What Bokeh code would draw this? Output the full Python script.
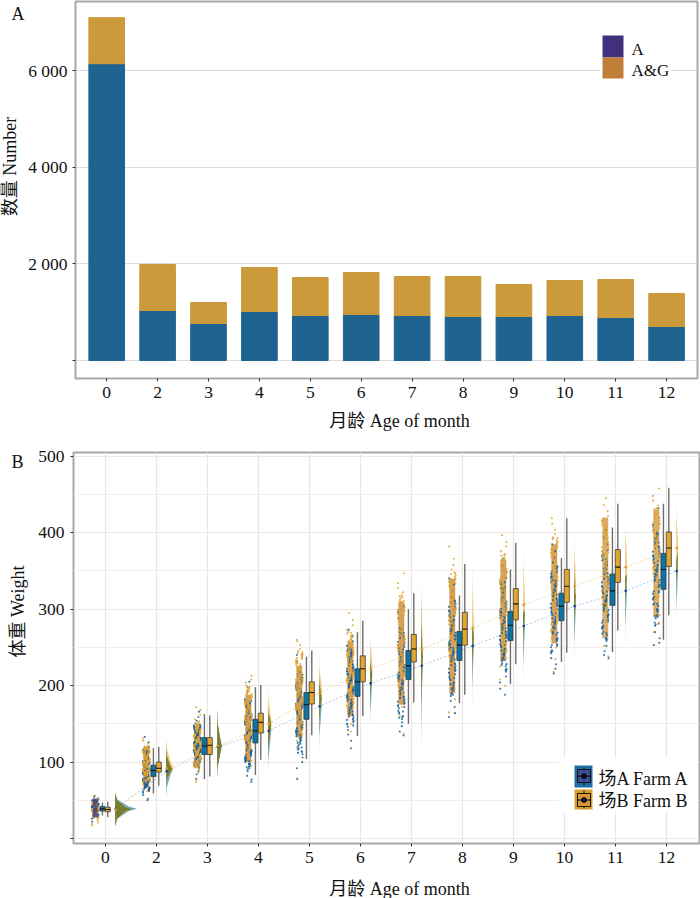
from bokeh.plotting import figure
from bokeh.layouts import column
from bokeh.embed import file_html
from bokeh.resources import INLINE
from bokeh.models import Range1d, FixedTicker, Label

months = ["0", "2", "3", "4", "5", "6", "7", "8", "9", "10", "11", "12"]

# Panel A
count_a = [6150, 1036, 767, 1016, 933, 953, 933, 912, 912, 933, 891, 705]
count_total = [7105, 1990, 1202, 1927, 1720, 1824, 1741, 1741, 1575, 1658, 1679, 1389]

# Panel B box statistics: whisker low, q1, median, q3, whisker high
box_a = [
    [30, 36, 39, 42, 47], [59, 81, 89, 96, 118], [78, 110, 121, 132, 163], [83, 125, 141, 156, 198],
    [104, 156, 175, 191, 238], [134, 186, 205, 222, 270], [150, 208, 226, 246, 300], [177, 233, 253, 271, 318],
    [202, 259, 279, 297, 352], [231, 285, 304, 321, 367], [244, 305, 324, 346, 407], [260, 326, 352, 373, 438],
]
box_b = [
    [28, 35, 38, 41, 48], [69, 87, 92, 100, 120], [81, 110, 122, 132, 161], [103, 138, 152, 164, 201],
    [135, 176, 191, 205, 246], [160, 205, 222, 239, 285], [178, 231, 248, 267, 321], [188, 253, 274, 296, 359],
    [228, 286, 307, 327, 387], [243, 309, 330, 352, 419], [272, 335, 355, 378, 438], [292, 356, 380, 401, 459],
]
mean_a = [39, 88, 120, 141, 173, 203, 226, 252, 278, 304, 324, 350]
mean_b = [38, 92, 121, 150, 190, 222, 248, 275, 306, 330, 355, 380]

# Half-violin extents and peak widths (in month units)
cloud_a_low = [16, 52, 78, 85, 113, 144, 120, 166, 201, 229, 251, 280]
cloud_a_high = [60, 120, 170, 172, 216, 238, 318, 281, 299, 362, 338, 351]
cloud_b_low = [16, 68, 78, 100, 137, 168, 120, 198, 229, 255, 277, 312]
cloud_b_high = [60, 133, 170, 201, 243, 273, 358, 366, 389, 407, 422, 443]
cloud_a_peak = [0.43, 0.12, 0.09, 0.06, 0.05, 0.04, 0.035, 0.035, 0.035, 0.035, 0.035, 0.035]
cloud_b_peak = [0.33, 0.15, 0.09, 0.07, 0.06, 0.05, 0.04, 0.04, 0.04, 0.04, 0.04, 0.04]
cloud_profile = [0.0, 0.1, 0.62, 1.0, 0.62, 0.1, 0.0]

# Dense centre of each raw-data strip
strip_core_low = [28, 66, 92, 100, 132, 160, 175, 190, 232, 255, 262, 290]
strip_core_high = [52, 120, 148, 188, 226, 258, 310, 340, 365, 385, 420, 430]
strip_core_color = ["#4a3f7f", "#c98530", "#c98530", "#c98530", "#c98530", "#c98530", "#c98a3a", "#c98a3a", "#c98a3a", "#c98a3a", "#cf9a4a", "#cf9a4a"]

strip_a = [
    [22, 26, 28, 30, 31, 32, 33, 34, 35, 36, 37, 38, 38, 39, 40, 41, 42, 43, 44, 45, 46, 47, 48, 49, 50, 52, 54, 56],
    [50, 52, 57, 60, 63, 64, 66, 68, 70, 72, 74, 75, 77, 79, 80, 82, 83, 85, 86, 88, 89, 90, 92, 93, 95, 96, 98, 100, 102, 104, 107, 110, 113, 116, 120, 126, 133],
    [78, 84, 88, 92, 95, 98, 100, 102, 104, 106, 108, 110, 111, 113, 115, 116, 118, 120, 121, 123, 125, 127, 129, 131, 133, 135, 138, 141, 144, 147, 150, 154, 159, 166],
    [74, 77, 82, 88, 92, 96, 100, 104, 108, 112, 115, 118, 122, 125, 128, 131, 134, 137, 140, 143, 146, 149, 152, 155, 158, 161, 164, 168, 172, 176, 180, 185, 191, 198, 205],
    [78, 92, 100, 106, 112, 118, 124, 129, 134, 139, 143, 147, 151, 155, 159, 163, 167, 171, 175, 179, 183, 187, 191, 195, 199, 203, 208, 213, 218, 224, 231, 240],
    [118, 128, 136, 142, 148, 154, 160, 165, 170, 175, 180, 185, 189, 193, 197, 201, 205, 209, 213, 217, 221, 226, 231, 236, 241, 246, 252, 258, 265, 273],
    [135, 140, 147, 152, 158, 165, 172, 178, 184, 190, 196, 201, 206, 211, 216, 221, 226, 231, 236, 241, 246, 251, 256, 262, 268, 274, 281, 288, 296, 304],
    [159, 164, 172, 180, 188, 195, 202, 209, 215, 221, 227, 233, 238, 243, 248, 253, 258, 263, 268, 273, 278, 284, 290, 296, 302, 309, 316, 324, 332, 340],
    [188, 196, 204, 212, 220, 227, 234, 240, 246, 252, 258, 264, 269, 274, 279, 284, 289, 294, 299, 304, 309, 315, 321, 327, 334, 341, 349, 357, 366],
    [216, 222, 228, 236, 244, 252, 260, 268, 275, 282, 288, 294, 300, 306, 312, 318, 324, 330, 336, 342, 348, 354, 361, 368, 376, 385],
    [236, 240, 245, 252, 260, 268, 276, 284, 291, 298, 304, 310, 316, 322, 328, 334, 340, 346, 352, 358, 364, 370, 377, 385, 394, 404],
    [253, 256, 262, 270, 280, 290, 298, 306, 314, 322, 330, 337, 344, 350, 356, 362, 368, 374, 380, 386, 392, 398, 404, 410, 420, 432],
]
strip_b = [
    [17, 19, 21, 24, 27, 29, 31, 33, 35, 36, 38, 39, 41, 43, 44, 46, 48, 50, 53, 55],
    [62, 67, 71, 74, 76, 78, 81, 83, 84, 86, 87, 89, 90, 91, 93, 94, 95, 97, 98, 100, 101, 103, 105, 106, 108, 110, 112, 114, 116, 118, 121, 124, 128, 131],
    [74, 77, 86, 90, 94, 97, 101, 105, 107, 109, 112, 114, 117, 119, 122, 124, 126, 128, 130, 132, 134, 136, 139, 142, 145, 148, 151, 156, 162, 168, 172],
    [95, 102, 108, 113, 118, 123, 127, 131, 135, 138, 141, 144, 147, 150, 153, 156, 159, 162, 165, 168, 171, 174, 177, 181, 185, 188, 192, 196, 200, 204, 208, 213],
    [118, 128, 136, 143, 149, 154, 159, 164, 168, 172, 176, 180, 184, 188, 192, 196, 199, 203, 207, 211, 215, 219, 223, 227, 231, 235, 239, 243, 248, 253, 258, 260],
    [140, 150, 158, 166, 172, 178, 184, 189, 194, 199, 203, 207, 211, 215, 219, 223, 227, 231, 235, 239, 243, 248, 253, 258, 263, 268, 273, 279, 286, 295],
    [137, 160, 172, 180, 190, 198, 206, 214, 220, 226, 232, 238, 244, 250, 255, 260, 265, 270, 275, 280, 286, 292, 298, 304, 310, 316, 322, 328, 334, 347],
    [165, 182, 195, 205, 214, 222, 230, 237, 244, 250, 256, 262, 268, 274, 280, 286, 292, 298, 304, 310, 316, 322, 328, 334, 340, 346, 352, 358, 366, 382],
    [200, 208, 225, 236, 245, 254, 262, 270, 278, 285, 292, 298, 304, 310, 316, 322, 328, 334, 340, 346, 352, 358, 364, 370, 376, 382, 388, 397],
    [218, 235, 250, 262, 272, 282, 290, 298, 306, 314, 320, 326, 332, 338, 344, 350, 356, 362, 368, 374, 380, 386, 392, 398, 404, 412, 419],
    [238, 252, 270, 284, 296, 306, 316, 325, 334, 342, 350, 356, 362, 368, 374, 380, 386, 392, 398, 404, 410, 416, 422, 428, 436, 445],
    [270, 282, 292, 304, 316, 328, 338, 346, 354, 362, 370, 376, 382, 388, 394, 400, 406, 412, 418, 424, 430, 436, 442, 448, 458],
]

FONT = "Liberation Serif, Noto Sans CJK SC"
BLUE, GOLD = "#0d74a6", "#e2a52e"
BAR_BLUE, BAR_GOLD = "#1f6491", "#cb9a3a"
x_jitter = [-0.06, 0.022, -0.024, 0.058, -0.04, 0.011, 0.046, -0.066, 0.034, -0.012, 0.064, -0.048, 0.017, -0.03, 0.052]
y_jitter = [0, 2.2, -1.7, 1.1]
idx = list(range(len(months)))


def style(p, yticks, overrides, grid_color, minor=None):
    p.xaxis.ticker = FixedTicker(ticks=idx)
    p.xaxis.major_label_overrides = {i: m for i, m in zip(idx, months)}
    p.yaxis.ticker = FixedTicker(ticks=yticks, minor_ticks=minor or [])
    p.yaxis.major_label_overrides = overrides
    for ax in (p.xaxis, p.yaxis):
        ax.axis_line_color = None
        ax.major_tick_line_color = "#333333"
        ax.major_tick_line_width = 1
        ax.major_tick_in = 0
        ax.major_tick_out = 3
        ax.minor_tick_line_color = None
        ax.major_label_text_font = FONT
        ax.major_label_text_font_size = "17.5px"
        ax.major_label_text_color = "#111111"
        ax.major_label_standoff = 5
    p.outline_line_color = "#a8a8a8"
    p.outline_line_width = 2
    p.background_fill_color = "#ffffff"
    p.ygrid.grid_line_color = grid_color
    p.ygrid.grid_line_width = 1


# ---------- Panel A ----------
p1 = figure(width=700, height=440, output_backend="svg", toolbar_location=None,
            x_range=Range1d(-0.613, 11.607), y_range=Range1d(-373, 7440),
            min_border_left=75, min_border_right=3, min_border_top=1, min_border_bottom=62)
style(p1, [0, 2000, 4000, 6000], {0: "", 2000: "2 000", 4000: "4 000", 6000: "6 000"}, "#dcdcdc")
p1.xgrid.visible = False
p1.vbar(x=idx, top=count_a, bottom=0, width=0.7, color=BAR_BLUE)
p1.vbar(x=idx, top=count_total, bottom=count_a, width=0.7, color=BAR_GOLD)

# ---------- Panel B ----------
p2 = figure(width=700, height=458, output_backend="svg", toolbar_location=None,
            x_range=Range1d(-0.627, 11.647), y_range=Range1d(-6.5, 505),
            min_border_left=73, min_border_right=1, min_border_top=12, min_border_bottom=55)
style(p2, [0, 100, 200, 300, 400, 500], {0: "", 100: "100", 200: "200", 300: "300", 400: "400", 500: "500"},
      "#f0e6e6", minor=[50, 150, 250, 350, 450])
p2.ygrid.minor_grid_line_color = "#f3ecec"
p2.ygrid.minor_grid_line_width = 1
p2.xgrid.grid_line_color = "#ebe4e4"
p2.xgrid.grid_line_width = 1.2

# mean lines behind everything
xm = [i + 0.2 for i in idx]
p2.line(xm, mean_a, line_color="#a9cbe8", line_width=1, line_dash="2 2")
p2.line(xm, mean_b, line_color="#f5d9a6", line_width=1, line_dash="2 2")

# strips
xs_core = [i - 0.2 for i in idx]
p2.vbar(x=xs_core, bottom=strip_core_low, top=strip_core_high, width=0.115,
        fill_color=strip_core_color, fill_alpha=0.8, line_color=None)
for pts, col in ((strip_a, "#12609c"), (strip_b, "#e3a32e")):
    xs, ys = [], []
    for i, vals in enumerate(pts):
        for k, v in enumerate(vals):
            # tails stay single dots; the dense middle is overplotted with jitter
            phases = range(4) if 4 <= k < len(vals) - 4 else range(1)
            for ph in phases:
                xs.append(i - 0.2 + x_jitter[(k * 7 + i + ph * 4) % len(x_jitter)])
                ys.append(v + y_jitter[ph] * (0.4 if i == 0 else 1))
    p2.scatter(xs, ys, size=2.1, color=col, alpha=0.85, line_color=None)
p2.vbar(x=xs_core[:1], bottom=strip_core_low[:1], top=strip_core_high[:1], width=0.09,
        fill_color=strip_core_color[:1], fill_alpha=0.75, line_color=None)


# clouds: each farm pale, their overlap olive
def cloud(low, high, peak, q1, med, q3, col, alpha):
    pxs, pys = [], []
    for i in idx:
        ky = [low[i], (low[i] + q1[i]) / 2, q1[i], med[i], q3[i], (high[i] + q3[i]) / 2, high[i]]
        pxs.append([i + 0.19] + [i + 0.19 + peak[i] * f for f in cloud_profile] + [i + 0.19])
        pys.append([low[i]] + ky + [high[i]])
    p2.patches(pxs, pys, fill_color=col, fill_alpha=alpha, line_color=None)


def col_of(box, j):
    return [b[j] for b in box]


cloud(cloud_a_low, cloud_a_high, cloud_a_peak, col_of(box_a, 1), col_of(box_a, 2), col_of(box_a, 3), BLUE, 0.6)
cloud(cloud_b_low, cloud_b_high, cloud_b_peak, col_of(box_b, 1), col_of(box_b, 2), col_of(box_b, 3), GOLD, 0.6)
cloud([max(a, b) for a, b in zip(cloud_a_low, cloud_b_low)], [min(a, b) for a, b in zip(cloud_a_high, cloud_b_high)],
      [min(a, b) for a, b in zip(cloud_a_peak, cloud_b_peak)],
      [max(a, b) for a, b in zip(col_of(box_a, 1), col_of(box_b, 1))],
      [(a + b) / 2 for a, b in zip(col_of(box_a, 2), col_of(box_b, 2))],
      [min(a, b) for a, b in zip(col_of(box_a, 3), col_of(box_b, 3))], "#747a2c", 0.95)

# boxes
for box, col, off in ((box_a, BLUE, -0.06), (box_b, GOLD, 0.045)):
    xb = [i + off for i in idx]
    lo, q1, med, q3, hi = (col_of(box, j) for j in range(5))
    p2.segment(xb, lo, xb, hi, line_color="#6e6e6e", line_width=1.4)
    p2.vbar(x=xb, bottom=q1, top=q3, width=0.1, fill_color=col, line_color="#3c3c3c", line_width=0.8)
    p2.segment([x - 0.05 for x in xb], med, [x + 0.05 for x in xb], med, line_color="#111111", line_width=1.1)

p2.scatter(xm, mean_a, size=2.6, color="#1f3f8f", line_color=None)
p2.scatter(xm, mean_b, size=2.6, color="#e59a3a", line_color=None)

# ---------- Page overlay: outer labels and the two legends, in page pixels ----------
ov = figure(width=700, height=898, output_backend="svg", toolbar_location=None,
            x_range=Range1d(0, 700), y_range=Range1d(898, 0),
            x_axis_location=None, y_axis_location=None,
            min_border=0, margin=(-898, 0, 0, 0),
            background_fill_color=None, border_fill_color=None, outline_line_color=None)
ov.grid.visible = False


def text(s, x, y, angle=0, size="18px", align="center"):
    ov.add_layout(Label(x=x, y=y, text=s, angle=angle, angle_units="deg", text_font=FONT, text_font_size=size,
                        text_align=align, text_baseline="middle", text_color="#111111"))


legend_a_labels = ["A", "A&G"]
legend_a_colors = ["#41307e", "#c07e36"]
legend_b_labels = ["场A  Farm A", "场B  Farm B"]
legend_b_colors = ["#1e6ea5", "#d99c2e"]
legend_b_inner = ["#3c4f96", "#d99c2e"]

ov.quad(left=[600, 558], right=[671, 697], top=[33, 757], bottom=[80, 812], fill_color="#ffffff", line_color=None)
ov.quad(left=[602, 602], right=[623, 623], top=[35, 57], bottom=[57, 78], fill_color=legend_a_colors, line_color=None)
ov.quad(left=[574, 574], right=[592, 592], top=[765, 789], bottom=[787, 809], fill_color=legend_b_colors, line_color=None)
ov.segment([583.5, 583.5], [767, 790], [583.5, 583.5], [785, 808], line_color="#111111", line_width=1)
ov.quad(left=[577, 577], right=[590, 590], top=[769, 793], bottom=[782, 806], fill_color=legend_b_inner,
        line_color="#111111", line_width=1)
ov.segment([577, 577], [775.6, 799.5], [590, 590], [775.6, 799.5], line_color="#111111", line_width=1.2)
ov.scatter([583.5, 583.5], [775.6, 799.5], size=5, color="#111111")

text(legend_a_labels[0], 631, 49, size="17px", align="left")
text(legend_a_labels[1], 631, 70, size="17px", align="left")
text(legend_b_labels[0], 598, 778, align="left")
text(legend_b_labels[1], 598, 800, align="left")
text("A", 17.5, 13)
text("数量 Number", 9.5, 166, angle=90)
text("月龄 Age of month", 399, 420)
text("B", 17, 461)
text("体重 Weight", 17, 611, angle=90)
text("月龄 Age of month", 399, 888)

page = column(column(p1), column(p2), column(ov), spacing=0)
open("out.html", "w").write(file_html(page, INLINE))
